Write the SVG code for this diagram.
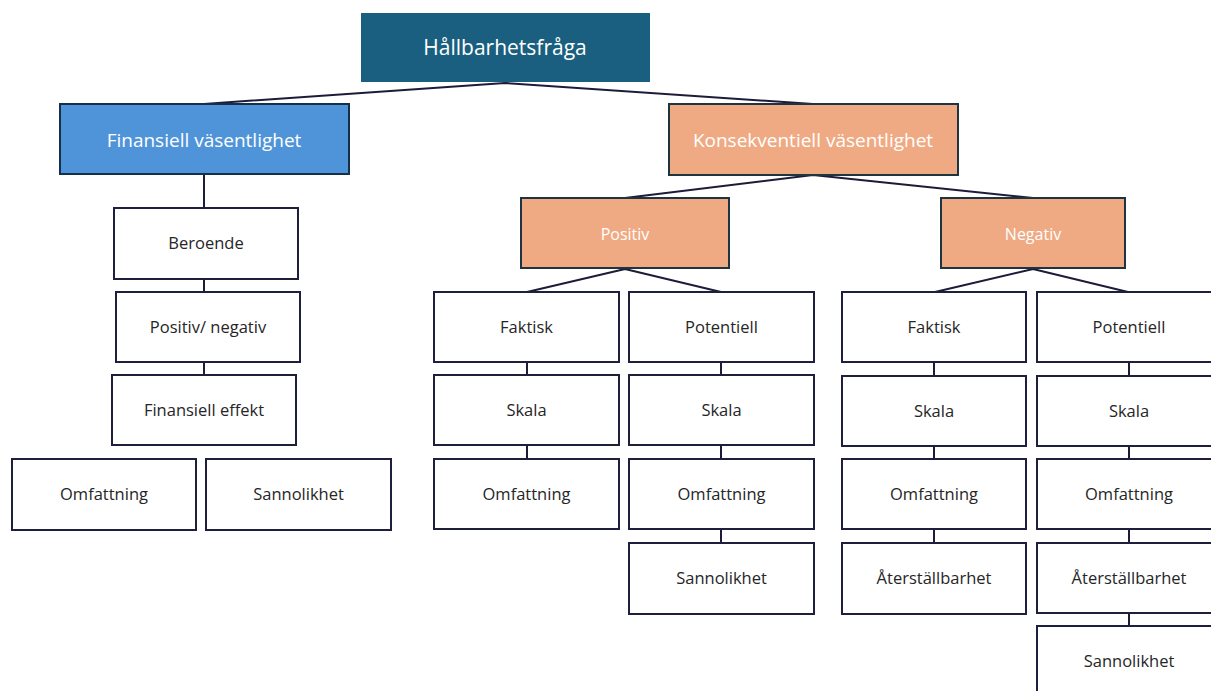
<svg xmlns="http://www.w3.org/2000/svg" width="1211" height="691" viewBox="0 0 1211 691">
<style>
.box{fill:#fff;stroke:#1e1f3d;stroke-width:2}
.blue{fill:#4f94d9;stroke:#17304a;stroke-width:2}
.sal{fill:#f0aa83;stroke:#1d3540;stroke-width:2}
.top{fill:#1a5f80}
.t{font-family:"Open Sans","Liberation Sans",sans-serif;font-size:16.5px;fill:#262626;text-anchor:middle}
.w{font-family:"Open Sans","Liberation Sans",sans-serif;fill:#fff;text-anchor:middle}
.c{stroke:#1c1c3a;stroke-width:2;fill:none}
</style>
<g id="connectors">
<path class="c" d="M505 83 L204 104 M505 83 L813 104"/>
<path class="c" d="M813 175 L625 198 M813 175 L1033 198"/>
<path class="c" d="M204 174 V208 M204 279 V292 M204 362 V375"/>
<path class="c" d="M625 269 L527 292 M625 269 L721 292"/>
<path class="c" d="M527 362 V375 M527 445 V459"/>
<path class="c" d="M721 362 V375 M721 445 V459 M721 529 V543"/>
<path class="c" d="M1033 269 L935 292 M1033 269 L1128 292"/>
<path class="c" d="M934 362 V376 M934 446 V459 M934 529 V543"/>
<path class="c" d="M1129 362 V376 M1129 446 V459 M1129 529 V543 M1129 613 V626"/>
</g>
<g id="n-top"><rect class="top" x="361" y="13" width="289" height="69"/><text class="w" x="505" y="48" dy="0.35em" font-size="21">Hållbarhetsfråga</text></g>
<g id="n-fin"><rect class="blue" x="60" y="104" width="289" height="70"/><text class="w" x="204" y="140" dy="0.35em" font-size="19">Finansiell väsentlighet</text></g>
<g id="n-kon"><rect class="sal" x="669" y="104" width="289" height="71"/><text class="w" x="813" y="140" dy="0.35em" font-size="19">Konsekventiell väsentlighet</text></g>
<g id="n-pos"><rect class="sal" x="521" y="198" width="208" height="70"/><text class="w" x="625" y="234" dy="0.35em" font-size="16">Positiv</text></g>
<g id="n-neg"><rect class="sal" x="941" y="198" width="184" height="70"/><text class="w" x="1033" y="234" dy="0.35em" font-size="16">Negativ</text></g>
<g id="n-ber"><rect class="box" x="114" y="208" width="184" height="71"/><text class="t" x="206" y="243.5" dy="0.35em">Beroende</text></g>
<g id="n-pn"><rect class="box" x="116" y="292" width="184" height="70"/><text class="t" x="208" y="327" dy="0.35em">Positiv/ negativ</text></g>
<g id="n-fe"><rect class="box" x="112" y="375" width="184" height="70"/><text class="t" x="204" y="410" dy="0.35em">Finansiell effekt</text></g>
<g id="n-om1"><rect class="box" x="12" y="459" width="184" height="71"/><text class="t" x="104" y="494.5" dy="0.35em">Omfattning</text></g>
<g id="n-sa1"><rect class="box" x="206" y="459" width="185" height="71"/><text class="t" x="298.5" y="494.5" dy="0.35em">Sannolikhet</text></g>
<g id="n-pf"><rect class="box" x="434" y="292" width="185" height="70"/><text class="t" x="526.5" y="327" dy="0.35em">Faktisk</text></g>
<g id="n-pfs"><rect class="box" x="434" y="375" width="185" height="70"/><text class="t" x="526.5" y="410" dy="0.35em">Skala</text></g>
<g id="n-pfo"><rect class="box" x="434" y="459" width="185" height="70"/><text class="t" x="526.5" y="494" dy="0.35em">Omfattning</text></g>
<g id="n-pp"><rect class="box" x="629" y="292" width="185" height="70"/><text class="t" x="721.5" y="327" dy="0.35em">Potentiell</text></g>
<g id="n-pps"><rect class="box" x="629" y="375" width="185" height="70"/><text class="t" x="721.5" y="410" dy="0.35em">Skala</text></g>
<g id="n-ppo"><rect class="box" x="629" y="459" width="185" height="70"/><text class="t" x="721.5" y="494" dy="0.35em">Omfattning</text></g>
<g id="n-ppsa"><rect class="box" x="629" y="543" width="185" height="71"/><text class="t" x="721.5" y="578.5" dy="0.35em">Sannolikhet</text></g>
<g id="n-nf"><rect class="box" x="842" y="292" width="184" height="70"/><text class="t" x="934" y="327" dy="0.35em">Faktisk</text></g>
<g id="n-nfs"><rect class="box" x="842" y="376" width="184" height="70"/><text class="t" x="934" y="411" dy="0.35em">Skala</text></g>
<g id="n-nfo"><rect class="box" x="842" y="459" width="184" height="70"/><text class="t" x="934" y="494" dy="0.35em">Omfattning</text></g>
<g id="n-nfa"><rect class="box" x="842" y="543" width="184" height="71"/><text class="t" x="934" y="578.5" dy="0.35em">Återställbarhet</text></g>
<g id="n-np"><rect class="box" x="1037" y="292" width="185" height="70"/><text class="t" x="1129" y="327" dy="0.35em">Potentiell</text></g>
<g id="n-nps"><rect class="box" x="1037" y="376" width="185" height="70"/><text class="t" x="1129" y="411" dy="0.35em">Skala</text></g>
<g id="n-npo"><rect class="box" x="1037" y="459" width="185" height="70"/><text class="t" x="1129" y="494" dy="0.35em">Omfattning</text></g>
<g id="n-npa"><rect class="box" x="1037" y="543" width="185" height="70"/><text class="t" x="1129" y="578" dy="0.35em">Återställbarhet</text></g>
<g id="n-npsa"><rect class="box" x="1037" y="626" width="185" height="71"/><text class="t" x="1129" y="661" dy="0.35em">Sannolikhet</text></g>
</svg>
